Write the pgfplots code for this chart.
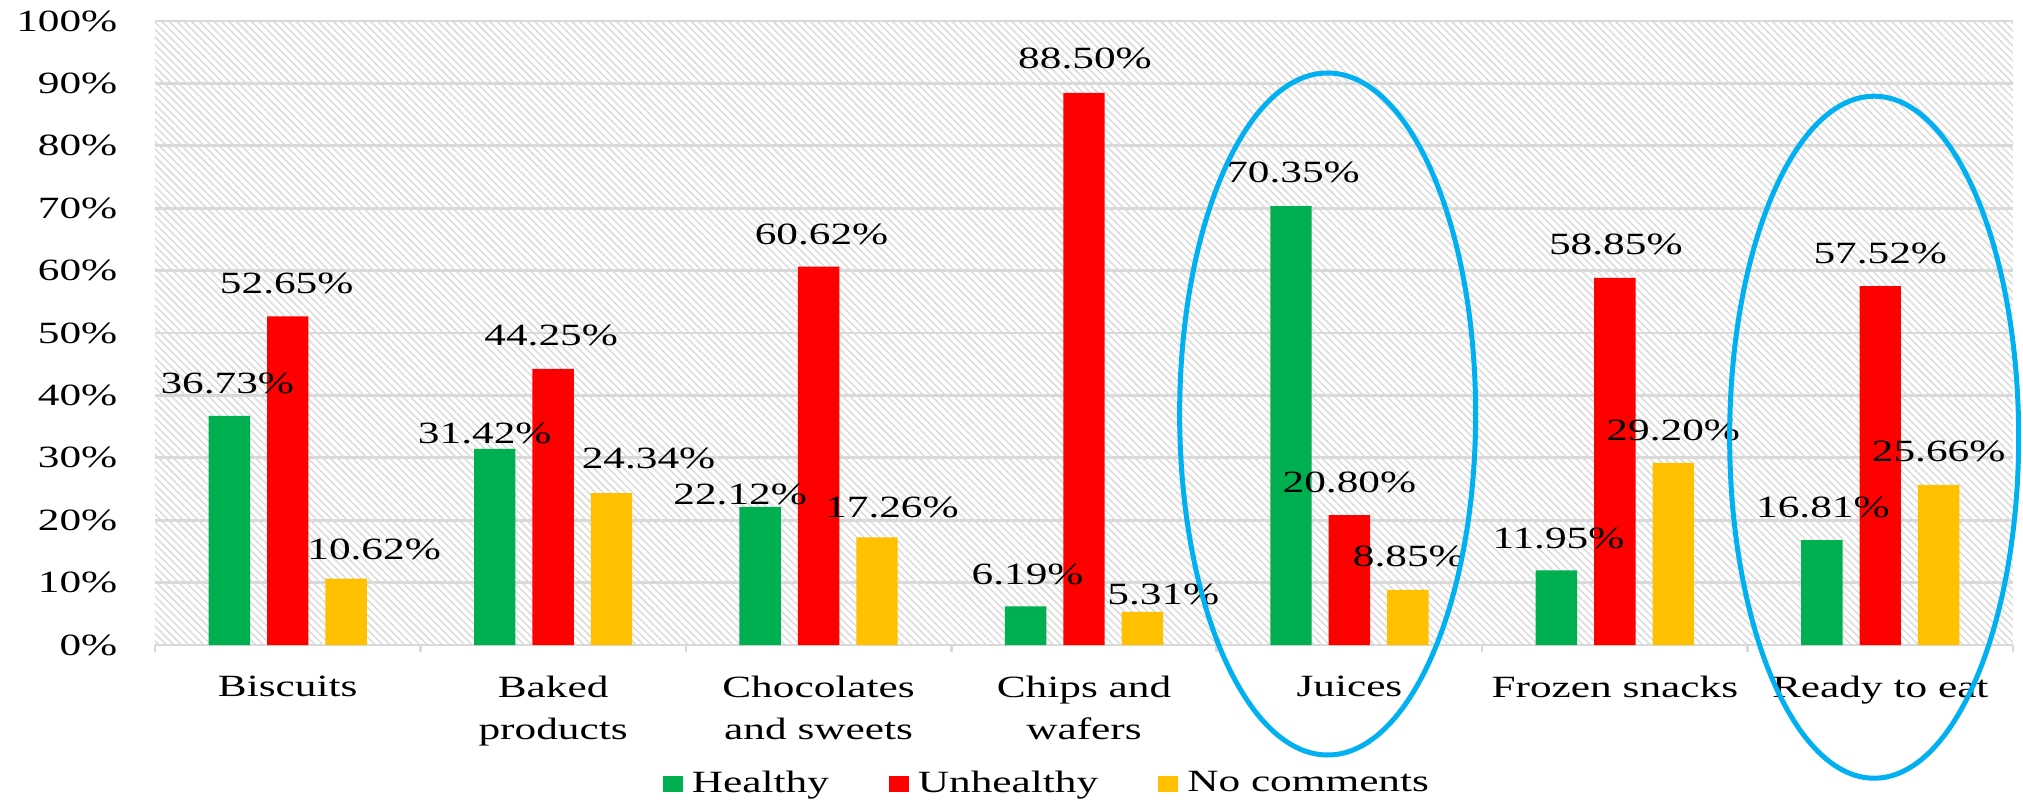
\documentclass[border=0pt]{standalone}
\usepackage{fontspec}
\setmainfont{Liberation Serif}[FakeStretch=1.4]
\usepackage{pgfplots}
\pgfplotsset{compat=1.18}
\usepackage{pgfplotstable}
\usetikzlibrary{patterns.meta}
\definecolor{cGreen}{HTML}{00B050}
\definecolor{cRed}{HTML}{FF0000}
\definecolor{cYellow}{HTML}{FFC000}
\definecolor{cGrid}{HTML}{D9D9D9}
\definecolor{cBlue}{HTML}{00B0F0}
\definecolor{cHatch}{HTML}{DADADA}

\pgfplotstableread{
x y dx dy
0 36.73 -0.02 0.32
1 31.42 -0.10 0.16
2 22.12 -0.20 0.125
3 6.19 0.02 0.32
4 70.35 0.02 0.34
5 11.95 0.02 0.32
6 16.81 0.01 0.33
}\healthy
\pgfplotstableread{
x y dx dy
0 52.65 -0.01 0.33
1 44.25 -0.02 0.33
2 60.62 0.03 0.32
3 88.50 0.01 0.34
4 20.80 0.00 0.325
5 58.85 0.01 0.33
6 57.52 0.00 0.324
}\unhealthy
\pgfplotstableread{
x y dx dy
0 10.62 0.28 0.29
1 24.34 0.37 0.35
2 17.26 0.15 0.295
3 5.31 0.21 0.17
4 8.85 0.01 0.33
5 29.20 0.00 0.325
6 25.66 0.00 0.33
}\nocomm

\pgfplotsset{
  sqlegend/.style={legend image code/.code={\fill[##1] (0cm,-0.075cm) rectangle (0.2cm,0.08cm);}},
  barlabels/.style={draw=none, mark=none, forget plot, point meta=y,
    visualization depends on={\thisrow{dx}\as\dx},
    visualization depends on={\thisrow{dy}\as\dy},
    nodes near coords={\pgfmathprintnumber[fixed,fixed zerofill,precision=2,assume math mode=true]{\pgfplotspointmeta}\%},
    nodes near coords style={anchor=center, inner sep=0pt, xshift=\dx cm, yshift=\dy cm}},
}

\begin{document}
\fontsize{8.8}{12}\selectfont
\begin{tikzpicture}
\begin{axis}[
  scale only axis, width=18.58cm, height=6.24cm,
  xmin=-0.5, xmax=6.5, ymin=0, ymax=100,
  clip=false,
  axis line style={draw=none},
  xtick={0,...,6},
  xticklabels={Biscuits, Baked\\products, Chocolates\\and sweets, Chips and\\wafers, Juices, Frozen snacks, Ready to eat},
  minor xtick={-0.5,0.5,...,6.5},
  ytick={0,10,...,100},
  yticklabel={\pgfmathprintnumber{\tick}\%},
  /pgf/number format/assume math mode=true,
  major tick length=0pt,
  minor tick length=0.07cm,
  tick align=outside,
  xtick pos=left, ytick pos=left,
  minor tick style={cGrid, line width=0.75pt},
  ymajorgrids, grid style={cGrid, line width=0.75pt},
  xticklabel style={anchor=north, inner sep=0pt, yshift=-0.30cm, align=center},
  yticklabel style={anchor=east, inner sep=0pt, xshift=-0.37cm},
  axis background/.style={pattern={Lines[angle=-45,distance=1.5pt,line width=0.42pt]}, pattern color=cHatch},
  legend style={draw=none, fill=none, inner sep=0pt, at={(0.4795,-0.2228)}, anchor=center, legend columns=3,
    nodes={inner sep=0pt},
    /tikz/every odd column/.append style={column sep=0.09cm},
    /tikz/every even column/.append style={column sep=0.6cm}},
]
\addplot[ybar, bar width=0.156, bar shift=-0.22, fill=cGreen, draw=none, sqlegend] table[x=x,y=y]{\healthy};
\addplot[ybar, bar width=0.156, bar shift=0, fill=cRed, draw=none, sqlegend] table[x=x,y=y]{\unhealthy};
\addplot[ybar, bar width=0.156, bar shift=0.22, fill=cYellow, draw=none, sqlegend] table[x=x,y=y]{\nocomm};
\legend{Healthy, Unhealthy, No comments}
\addplot[barlabels] table[x expr=\thisrow{x}-0.22, y=y]{\healthy};
\addplot[barlabels] table[x=x, y=y]{\unhealthy};
\addplot[barlabels] table[x expr=\thisrow{x}+0.22, y=y]{\nocomm};
\coordinate (e1) at (axis cs:3.918,37.02);
\coordinate (e2) at (axis cs:5.977,33.3);
\coordinate (bl) at (axis cs:-0.5,0);
\end{axis}
\draw[cBlue, line width=0.05cm] (e1) ellipse [x radius=1.48cm, y radius=3.41cm];
\draw[cBlue, line width=0.05cm] (e2) ellipse [x radius=1.445cm, y radius=3.41cm];
\pgfresetboundingbox
\path[use as bounding box] (bl) ++(-1.55cm,-1.54cm) rectangle ++(20.23cm,7.99cm);
\end{tikzpicture}
\end{document}
